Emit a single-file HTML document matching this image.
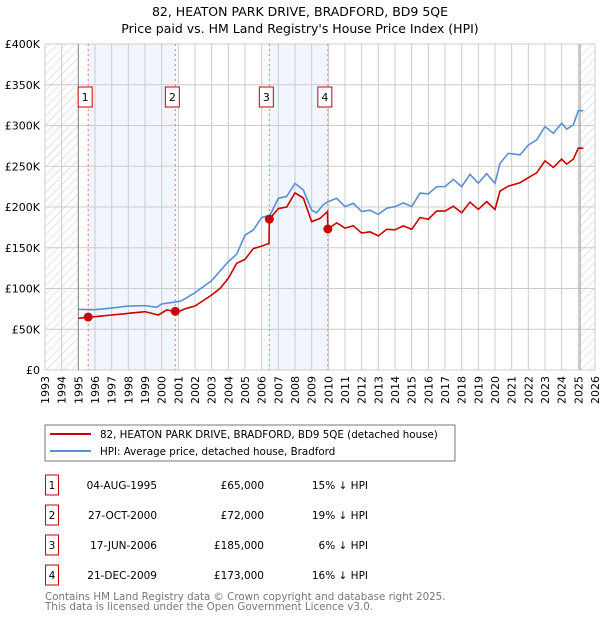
<!DOCTYPE html>
<html><head><meta charset="utf-8"><style>
body{margin:0;background:#fff;font-family:"DejaVu Sans","Liberation Sans",sans-serif;}
svg text{font-family:"DejaVu Sans","Liberation Sans",sans-serif;}
</style></head><body>
<svg id="c" width="600" height="620" viewBox="0 0 600 620" xmlns="http://www.w3.org/2000/svg">
<defs><pattern id="hatch" width="6" height="6" patternUnits="userSpaceOnUse" patternTransform="rotate(45)"><line x1="0" y1="0" x2="0" y2="6" stroke="#ccc" stroke-width="1"/></pattern></defs>
<text x="300" y="16" text-anchor="middle" font-size="12.5">82, HEATON PARK DRIVE, BRADFORD, BD9 5QE</text>
<text x="300" y="33" text-anchor="middle" font-size="12.5">Price paid vs. HM Land Registry's House Price Index (HPI)</text>
<g id="plot"></g>
<rect x="45" y="425" width="410" height="36" fill="#fff" stroke="#777"/>
<line x1="50" y1="434" x2="91" y2="434" stroke="#cc0000" stroke-width="2"/>
<text x="100" y="438" font-size="10.3">82, HEATON PARK DRIVE, BRADFORD, BD9 5QE (detached house)</text>
<line x1="50" y1="451" x2="91" y2="451" stroke="#5b8fd4" stroke-width="2"/>
<text x="100" y="455" font-size="10.3">HPI: Average price, detached house, Bradford</text>
<g id="tbl" font-size="10.5"></g>
<text x="45" y="600" font-size="10.3" fill="#777">Contains HM Land Registry data © Crown copyright and database right 2025.</text>
<text x="45" y="610" font-size="10.3" fill="#777">This data is licensed under the Open Government Licence v3.0.</text>
</svg>
<script>
const yTicks=[0,50000,100000,150000,200000,250000,300000,350000,400000];
const yTickLabels=["£0","£50K","£100K","£150K","£200K","£250K","£300K","£350K","£400K"];
const years=[1993,1994,1995,1996,1997,1998,1999,2000,2001,2002,2003,2004,2005,2006,2007,2008,2009,2010,2011,2012,2013,2014,2015,2016,2017,2018,2019,2020,2021,2022,2023,2024,2025,2026];
const hpiT=[1995.0,1996,1997,1998,1999,1999.7,2000,2001,2001.2,2002,2003,2004,2004.5,2005,2005.5,2006,2006.5,2007,2007.5,2008,2008.5,2009,2009.3,2009.7,2010,2010.5,2011,2011.5,2012,2012.5,2013,2013.5,2014,2014.5,2015,2015.5,2016,2016.5,2017,2017.5,2018,2018.5,2019,2019.5,2020,2020.3,2020.8,2021.5,2022,2022.5,2023,2023.5,2024,2024.3,2024.7,2025,2025.3];
const hpiV=[74.4,74,76,78.5,79,77,81,84,85,94.9,109.6,133,142,165.6,171.8,187,190,210.6,213,229,221,196,193,203,206.6,210.7,200.5,204.5,194.4,196,191,198.5,200.5,205,200.5,217,216,225,225,233.8,225,240,229.2,241,229,253.6,265.9,264,276,282.3,298.7,290.5,302.8,295.5,300.7,318.3,318];
const priceT=[1995.0,1995.59,1996,1997,1998,1999,1999.8,2000.3,2000.82,2001,2001.5,2002,2003,2003.5,2004,2004.5,2005,2005.5,2006,2006.44,2006.46,2007,2007.5,2008,2008.5,2009,2009.5,2009.95,2009.97,2010.5,2011,2011.5,2012,2012.5,2013,2013.5,2014,2014.5,2015,2015.5,2016,2016.5,2017,2017.5,2018,2018.5,2019,2019.5,2020,2020.3,2020.8,2021.5,2022,2022.5,2023,2023.5,2024,2024.3,2024.7,2025,2025.3];
const priceV=[63.4,65,65.4,67.5,69.5,71.6,67.5,73.6,72,71.6,75.7,78.5,92,100,112.5,130.9,135.8,149,152,155.4,185,198,200,217.3,211,182,186,194.4,173,180.6,174,177,168,169.5,164.6,172.6,172,176.8,172.6,187,185,195,195,201,193,206,197,206.6,197,219.6,225.7,229.8,236,242,256.7,248.5,258.7,252.6,258.7,272.3,272];
const salesT=[1995.59,2000.82,2006.46,2009.97];
const salesV=[65000,72000,185000,173000];
const saleLabels=["1","2","3","4"];
const saleDates=["04-AUG-1995","27-OCT-2000","17-JUN-2006","21-DEC-2009"];
const salePrices=["£65,000","£72,000","£185,000","£173,000"];
const saleHpi=["15% ↓ HPI","19% ↓ HPI","6% ↓ HPI","16% ↓ HPI"];

const NS="http://www.w3.org/2000/svg";
const X0=45,X1=595,Y0=370,Y1=44;
const x=t=>X0+(t-1993)/(2026-1993)*(X1-X0);
const y=v=>Y0-v/400000*(Y0-Y1);
const plot=document.getElementById('plot');
function mk(tag,attrs,parent){const e=document.createElementNS(NS,tag);for(const k in attrs)e.setAttribute(k,attrs[k]);(parent||plot).appendChild(e);return e;}

let e;
e=mk('rect',{x:X0,y:Y1,width:X1-X0,height:Y0-Y1,fill:'#fff'});


for(let i=0;i<4;i+=2){
 e=mk('rect',{x:x(salesT[i]),y:Y1,width:x(salesT[i+1])-x(salesT[i]),height:Y0-Y1,fill:'#eef3fc',opacity:0.8});
 
 
}
e=mk('rect',{x:X0,y:Y1,width:x(1995)-X0,height:Y0-Y1,fill:'url(#hatch)'});


e=mk('rect',{x:x(2025.1),y:Y1,width:X1-x(2025.1),height:Y0-Y1,fill:'url(#hatch)'});


years.forEach(yr=>{
 e=mk('line',{x1:x(yr),y1:Y1,x2:x(yr),y2:Y0,stroke:'#ccc','stroke-width':1});
 
 
 e=mk('text',{x:0,y:0,'font-size':11,'text-anchor':'end',transform:`translate(${x(yr)+4},${Y0+6}) rotate(-90)`});
 e.textContent=yr;
 
 
});
yTicks.forEach((v,i)=>{
 e=mk('line',{x1:X0,y1:y(v),x2:X1,y2:y(v),stroke:'#ccc','stroke-width':1});
 
 
 e=mk('text',{x:X0-5,y:y(v)+4,'font-size':11,'text-anchor':'end'});
 e.textContent=yTickLabels[i];
 
 
});
e=mk('line',{x1:x(1995),y1:Y1,x2:x(1995),y2:Y0,stroke:'#888','stroke-width':1});


e=mk('line',{x1:x(2025.1),y1:Y1,x2:x(2025.1),y2:Y0,stroke:'#888','stroke-width':1});


salesT.forEach((t,i)=>{
 e=mk('line',{x1:x(t),y1:Y1,x2:x(t),y2:Y0,stroke:'#f07070','stroke-width':1,'stroke-dasharray':'2,3'});
 
 
 const bx=x(t)-10, by=87;
 e=mk('rect',{x:bx,y:by,width:14,height:20,fill:'#fff',stroke:'#cc0000','stroke-width':1});
 
 
 e=mk('text',{x:bx+7,y:by+14,'font-size':11,'text-anchor':'middle'});
 e.textContent=saleLabels[i];
 
 
});
e=mk('polyline',{points:hpiT.map((t,i)=>x(t)+','+y(hpiV[i]*1000)).join(' '),fill:'none',stroke:'#5b8fd4','stroke-width':1.6});


e=mk('polyline',{points:priceT.map((t,i)=>x(t)+','+y(priceV[i]*1000)).join(' '),fill:'none',stroke:'#cc0000','stroke-width':1.6});


salesT.forEach((t,i)=>{
 e=mk('circle',{cx:x(t),cy:y(salesV[i]),r:4.5,fill:'#cc0000'});
 
 
});
const tbl=document.getElementById('tbl');
const rowY=[483,513,543,573];
saleLabels.forEach((l,i)=>{
 const ry=rowY[i];
 e=mk('rect',{x:45.5,y:ry-8,width:13,height:20,fill:'#fff',stroke:'#cc0000'},tbl);
 
 
 e=mk('text',{x:52,y:ry+6,'text-anchor':'middle'},tbl);e.textContent=l;
 
 
 e=mk('text',{x:157,y:ry+6,'text-anchor':'end'},tbl);e.textContent=saleDates[i];
 
 
 e=mk('text',{x:264,y:ry+6,'text-anchor':'end'},tbl);e.textContent=salePrices[i];
 
 
 e=mk('text',{x:368,y:ry+6,'text-anchor':'end'},tbl);e.textContent=saleHpi[i];
 
 
});
</script>
</body></html>
